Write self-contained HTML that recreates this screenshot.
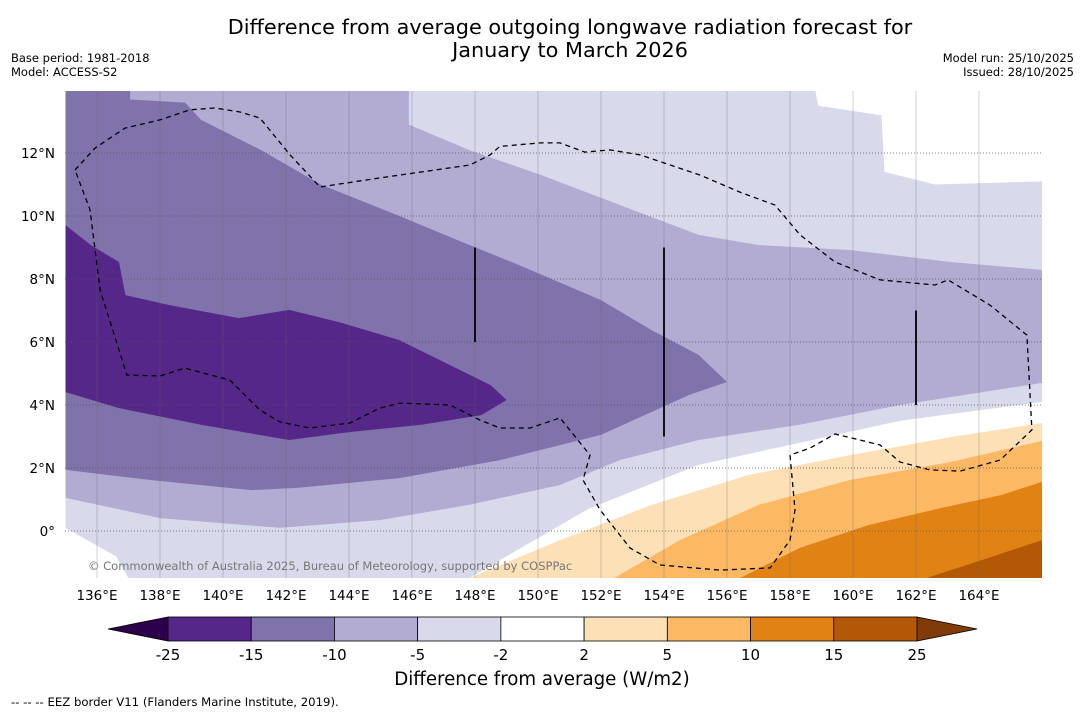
<!DOCTYPE html>
<html><head><meta charset="utf-8"><style>
body{margin:0;background:#fff;width:1085px;height:713px;overflow:hidden;font-family:"Liberation Sans","DejaVu Sans",sans-serif}
svg{position:absolute;left:0;top:0}
text{font-family:"DejaVu Sans","Liberation Sans",sans-serif}
</style></head><body>
<svg id="chart" width="1085" height="713"></svg>
<script>
const levels=[-25,-15,-10,-5,-2,2,5,10,15,25];
const levelColors=["#542788","#8073ac","#b2abd2","#d8daeb","#ffffff","#fee0b6","#fdb863","#e08214","#b35806"];
const lonTicks=[136,138,140,142,144,146,148,150,152,154,156,158,160,162,164];
const latTicks=[0,2,4,6,8,10,12];
const regionLe2=[[135,14],[158.8,14],[158.9,13.5],[160.9,13.2],[161,11.4],[162.6,11],[166,11.1],[166,4.1],[161.5,3.5],[155.1,2.1],[151.6,0.7],[147.8,-1.5],[137,-1.5],[136.6,-0.8],[135,0.1]];
const regionLe5=[[135,14],[145.9,14],[145.9,12.9],[147.8,12.1],[150.1,11.3],[152.6,10.35],[155.1,9.4],[157,9.08],[159.9,8.92],[163.1,8.54],[166,8.29],[166,4.7],[161.5,4],[158.3,3.37],[155.1,2.89],[152.6,2.25],[150.7,1.46],[147.8,0.83],[145,0.35],[141.8,0.1],[138,0.41],[135,1.05]];
const regionLe10=[[135,14],[137.05,14],[137.05,13.7],[138.8,13.6],[139.3,13.05],[141.2,12.1],[143.1,11],[145.6,10],[147.5,9.21],[149.4,8.44],[152,7.33],[153.6,6.38],[155.1,5.59],[156,4.73],[154.8,4.32],[152,3.05],[148.8,2.25],[145.6,1.68],[142.4,1.37],[140.9,1.3],[137.7,1.62],[135,1.94]];
const regionLe15=[[135,9.71],[135.8,9.08],[136.7,8.54],[136.9,7.49],[138.3,7.17],[140.5,6.76],[142.1,7.02],[143.7,6.63],[145.6,6.06],[147.2,5.27],[148.5,4.63],[149,4.16],[148.2,3.68],[146.3,3.37],[144,3.14],[142.1,2.89],[139.3,3.37],[136.7,3.9],[135,4.41]];
const regionGe2=[[147.8,-1.5],[150.7,-0.29],[153.6,0.83],[156.7,1.78],[159.9,2.41],[163.1,2.98],[166,3.43],[166,-1.5]];
const regionGe5=[[152.4,-1.5],[154.5,-0.29],[157,0.83],[159.9,1.62],[163.1,2.19],[166,2.86],[166,-1.5]];
const regionGe10=[[156.4,-1.5],[158.3,-0.54],[160.5,0.19],[162.8,0.73],[164.7,1.14],[166,1.56],[166,-1.5]];
const regionGe15=[[162.3,-1.5],[164.1,-0.92],[166,-0.29],[166,-1.5]];
const eez=[[135.3,11.46],[135.94,12.16],[136.89,12.79],[138,13.05],[138.95,13.37],[139.75,13.43],[140.54,13.3],[141.17,13.11],[142.13,11.94],[143.08,10.92],[144.98,11.21],[147.84,11.62],[148.48,11.94],[148.79,12.21],[150.06,12.32],[150.7,12.32],[151.49,12.03],[152.29,12.1],[153.24,11.94],[155.14,11.3],[156.41,10.76],[157.52,10.35],[158.32,9.4],[159.43,8.54],[160.86,7.97],[162.6,7.81],[163.02,7.97],[164.35,7.17],[165.52,6.22],[165.68,3.21],[164.67,2.25],[163.4,1.9],[162.44,1.94],[161.49,2.19],[160.86,2.73],[160.22,2.89],[159.43,3.08],[158.63,2.63],[158,2.41],[158.16,0.67],[158,-0.29],[157.37,-1.17],[155.78,-1.24],[153.87,-1.08],[152.92,-0.54],[151.97,0.67],[151.43,1.62],[151.65,2.41],[150.7,3.59],[149.75,3.27],[148.79,3.27],[148.16,3.52],[147.21,4.0],[145.62,4.06],[144.98,3.9],[144.03,3.43],[142.76,3.27],[141.81,3.46],[141.17,3.84],[140.38,4.63],[140.22,4.79],[138.79,5.17],[138,4.92],[136.95,4.95],[136.1,7.65],[135.78,10.19]];
const vlines=[[148,9,6],[154,9,3],[162,7,4]];

const NS="http://www.w3.org/2000/svg";
const svg=document.getElementById('chart');
const X0=65.5,Y0=531,S=31.5;
const px=lon=>X0+(lon-135)*S, py=lat=>Y0-lat*S;
function el(t,a,p){const e=document.createElementNS(NS,t);for(const k in a)e.setAttribute(k,a[k]);(p||svg).appendChild(e);return e;}
function txt(x,y,s,size,anchor,fill){const t=el('text',{x:x,y:y,'font-size':size,'text-anchor':anchor||'start',fill:fill||'#000'});t.textContent=s;return t;}
const pts=arr=>arr.map(p=>px(p[0]).toFixed(1)+','+py(p[1]).toFixed(1)).join(' ');

const defs=el('defs',{});const cp=el('clipPath',{id:'plotclip'},defs);el('rect',{x:65,y:91,width:977,height:487},cp);
const g=el('g',{'clip-path':'url(#plotclip)'});

const regions=[[regionLe2,3,'region-minus2-to-minus5'],[regionLe5,2,'region-minus5-to-minus10'],[regionLe10,1,'region-minus10-to-minus15'],[regionLe15,0,'region-minus15-to-minus25'],[regionGe2,5,'region-2-to-5'],[regionGe5,6,'region-5-to-10'],[regionGe10,7,'region-10-to-15'],[regionGe15,8,'region-15-to-25']];
regions.forEach(r=>{const p=el('polygon',{points:pts(r[0]),fill:levelColors[r[1]]},g);

});
lonTicks.forEach(l=>{const ln=el('line',{x1:px(l),x2:px(l),y1:91,y2:578,stroke:'#666','stroke-width':0.6,'stroke-opacity':0.5},g);

});
latTicks.forEach(l=>{const ln=el('line',{x1:65,x2:1042,y1:py(l),y2:py(l),stroke:'#555','stroke-width':0.8,'stroke-dasharray':'1,2'},g);

});
const ez=el('polygon',{points:pts(eez),fill:'none',stroke:'#000','stroke-width':1.3,'stroke-dasharray':'5,4'},g);


vlines.forEach(v=>{const ln=el('line',{x1:px(v[0]),x2:px(v[0]),y1:py(v[1]),y2:py(v[2]),stroke:'#000','stroke-width':1.8},g);

});
const cr=txt(88,570,'© Commonwealth of Australia 2025, Bureau of Meteorology, supported by COSPPac',11.5,'start','#777');


lonTicks.forEach(l=>{const t=txt(px(l),600,l+'°E',13.5,'middle');
});
latTicks.forEach(l=>{const t=txt(55,py(l)+5,l===0?'0°':l+'°N',13.5,'end');
});

const t1=txt(570,34,'Difference from average outgoing longwave radiation forecast for',20.8,'middle');

const t2=txt(570,57,'January to March 2026',20.8,'middle');

[['Base period: 1981-2018',11,62,'start','base-period'],['Model: ACCESS-S2',11,76,'start','model-name'],['Model run: 25/10/2025',1074,62,'end','model-run'],['Issued: 28/10/2025',1074,76,'end','issued-date']].forEach(a=>{const t=txt(a[1],a[2],a[0],11.5,a[3]);
});

// colorbar
const cbL=168,cbR=917,cbT=617,cbB=641,bw=(cbR-cbL)/levelColors.length;
const lt=el('polygon',{points:`${cbL},${cbT} 108,${(cbT+cbB)/2} ${cbL},${cbB}`,fill:'#2d004b',stroke:'#000','stroke-width':0.8});

const rt=el('polygon',{points:`${cbR},${cbT} 977,${(cbT+cbB)/2} ${cbR},${cbB}`,fill:'#7f3b08',stroke:'#000','stroke-width':0.8});

levelColors.forEach((c,i)=>{const r=el('rect',{x:cbL+i*bw,y:cbT,width:bw,height:cbB-cbT,fill:c,stroke:'#000','stroke-width':0.8});
});
levels.forEach((v,i)=>{const t=txt(cbL+i*bw,660,String(v),15,'middle');
});
const cbt=txt(542,685,'Difference from average (W/m2)',18.2,'middle');

const fn=txt(11,706,'--  --  -- EEZ border V11 (Flanders Marine Institute, 2019).',11.7,'start');

</script>
</body></html>
